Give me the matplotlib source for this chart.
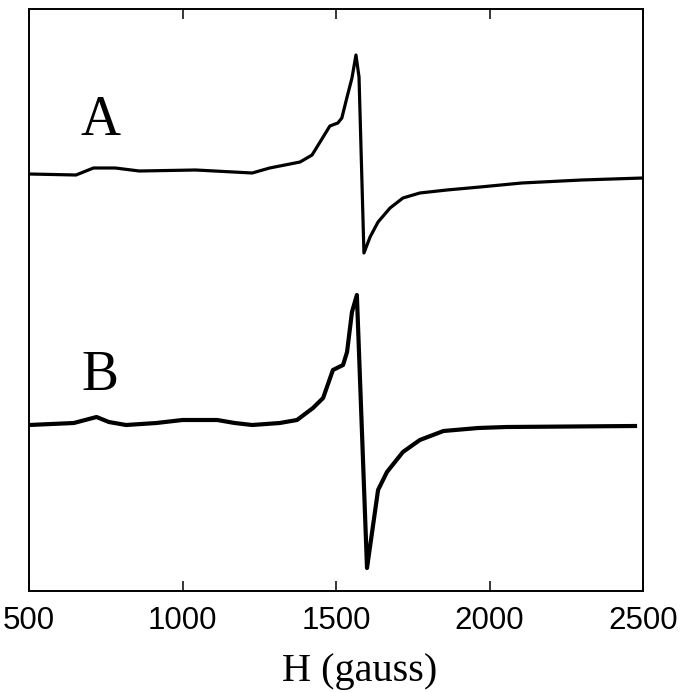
import matplotlib
matplotlib.use("Agg")
import matplotlib.pyplot as plt

# Field values (gauss) and signal (arbitrary units)
field_a = [500, 653, 710, 781, 859, 1043, 1227, 1284, 1317, 1383, 1422, 1448, 1480,
           1506, 1519, 1536, 1552, 1565, 1575, 1591, 1611, 1637, 1676, 1718, 1773,
           1861, 1969, 2105, 2300, 2500]
signal_a = [417, 416, 423, 423, 420, 421, 418, 423, 425, 429, 436, 449, 465,
            468, 473, 494, 513, 536, 514, 338, 354, 369, 383, 393, 398,
            401, 404, 408, 411, 413]

field_b = [500, 646, 720, 760, 816, 915, 1000, 1113, 1170, 1227, 1317, 1373, 1425,
           1458, 1490, 1523, 1536, 1552, 1568, 1601, 1637, 1666, 1718, 1773, 1850,
           1963, 2055, 2474]
signal_b = [166, 168, 174, 169, 166, 168, 171, 171, 168, 166, 168, 171, 183,
            193, 221, 226, 239, 279, 296, 23, 101, 119, 139, 151, 160,
            163, 164, 165]

xticks = [500, 1000, 1500, 2000, 2500]
xlabel = "H (gauss)"
labels = [("A", 733, 456), ("B", 731, 201)]

W, H = 683, 693
fig = plt.figure(figsize=(W / 100, H / 100), dpi=100)
ax = fig.add_axes([29 / W, 1 - 591 / H, 614 / W, 582 / H])

ax.plot(field_a, signal_a, color="black", lw=2.3, solid_joinstyle="round")
ax.plot(field_b, signal_b, color="black", lw=3.0, solid_joinstyle="round")

for txt, x, y in labels:
    ax.text(x, y, txt, fontsize=40, family="Liberation Serif", ha="center",
            va="baseline")

ax.set_xlim(500, 2500)
ax.set_ylim(0, 582)
ax.set_xticks(xticks)
ax.set_xticklabels([str(t) for t in xticks], family="Liberation Sans", fontsize=22.5)
ax.set_yticks([])
ax.tick_params(axis="x", direction="in", top=True, bottom=True, length=7.2,
               width=1.1, pad=11)
for s in ax.spines.values():
    s.set_linewidth(1.4)

fig.text(360 / W, 1 - 681 / H, xlabel, family="Liberation Serif", fontsize=29,
         ha="center", va="baseline")

fig.savefig("out.png", dpi=100)
